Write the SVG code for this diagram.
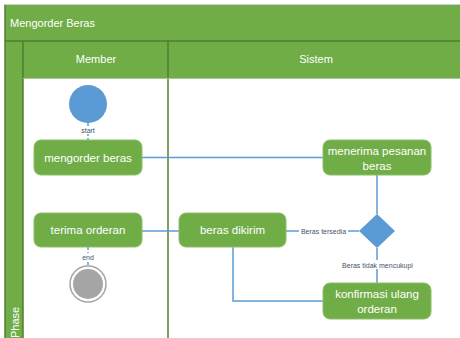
<svg xmlns="http://www.w3.org/2000/svg" width="460" height="338" viewBox="0 0 460 338">
  <defs>
    <style>
      .band { fill: #70AD47; }
      .rule { stroke: #507E32; stroke-width: 1.5; fill: none; }
      .hdr { font-family: "Liberation Sans", Arial, sans-serif; font-size: 11px; fill: #FFFFFF; }
      .act rect { fill: #70AD47; stroke: #8CC068; stroke-width: 1; }
      .act text { font-family: "Liberation Sans", Arial, sans-serif; font-size: 11.5px; fill: #FFFFFF; text-anchor: middle; }
      .flow { stroke: #5B9BD5; stroke-width: 1.5; fill: none; }
      .lbl { font-family: "Liberation Sans", Arial, sans-serif; font-size: 7px; fill: #44546A; text-anchor: middle; }
    </style>
  </defs>

  <rect width="460" height="338" fill="#FFFFFF"/>

  <!-- pool title band -->
  <line x1="4" y1="4.5" x2="460" y2="4.5" stroke="#D0D0D0" stroke-width="1"/>
  <rect class="band" x="5" y="5" width="455" height="36"/>
  <text class="hdr" x="10" y="27">Mengorder Beras</text>

  <!-- phase column -->
  <rect class="band" x="5" y="41" width="18" height="297"/>
  <text class="hdr" transform="translate(18.5,338) rotate(-90)" font-size="10">Phase</text>

  <!-- lane headers -->
  <rect class="band" x="23" y="41" width="437" height="37"/>
  <text class="hdr" x="96" y="63" text-anchor="middle">Member</text>
  <text class="hdr" x="316" y="63" text-anchor="middle">Sistem</text>

  <!-- frame rules -->
  <line class="rule" x1="5" y1="41" x2="460" y2="41"/>
  <line class="rule" x1="5" y1="5" x2="5" y2="338"/>
  <line class="rule" x1="23" y1="41" x2="23" y2="338"/>
  <line class="rule" x1="168" y1="41" x2="168" y2="338"/>
  <line x1="23" y1="78.5" x2="460" y2="78.5" stroke="#A8C89A" stroke-width="1"/>

  <!-- connectors -->
  <g id="connectors">
    <line class="flow" x1="88" y1="123" x2="88" y2="140" stroke-dasharray="3 2"/>
    <line class="flow" x1="142" y1="157.5" x2="323" y2="157.5"/>
    <line class="flow" x1="377" y1="175" x2="377" y2="214"/>
    <line class="flow" x1="359" y1="231" x2="286" y2="231"/>
    <line class="flow" x1="377" y1="248" x2="377" y2="283"/>
    <polyline class="flow" points="323,301 233,301 233,247"/>
    <line class="flow" x1="179" y1="231" x2="142" y2="231"/>
    <line class="flow" x1="88" y1="247" x2="88" y2="266" stroke-dasharray="3 2"/>
    <rect x="299" y="226" width="49" height="9" fill="#FFFFFF"/>
    <text class="lbl" x="323.5" y="233.5">Beras tersedia</text>
    <rect x="339" y="260" width="77" height="9" fill="#FFFFFF"/>
    <text class="lbl" x="377.5" y="267.5">Beras tidak mencukupi</text>
  </g>

  <g id="start">
    <circle cx="88" cy="104" r="19" fill="#5B9BD5"/>
    <rect x="80" y="126" width="16" height="8" fill="#FFFFFF"/>
    <text class="lbl" x="88" y="132.5">start</text>
  </g>

  <g id="mengorder-beras" class="act">
    <rect x="34" y="140" width="108" height="35" rx="7"/>
    <text x="88" y="161.5">mengorder beras</text>
  </g>

  <g id="menerima-pesanan" class="act">
    <rect x="323" y="140" width="108" height="35" rx="7"/>
    <text x="377" y="154.5">menerima pesanan</text>
    <text x="377" y="169.5">beras</text>
  </g>

  <g id="keputusan">
    <polygon points="377,214 395,231 377,248 359,231" fill="#5B9BD5"/>
  </g>

  <g id="beras-dikirim" class="act">
    <rect x="179" y="213" width="107" height="34" rx="7"/>
    <text x="232.5" y="234">beras dikirim</text>
  </g>

  <g id="terima-orderan" class="act">
    <rect x="34" y="213" width="108" height="34" rx="7"/>
    <text x="88" y="234">terima orderan</text>
  </g>

  <g id="konfirmasi-ulang" class="act">
    <rect x="323" y="283" width="108" height="36" rx="7"/>
    <text x="377" y="297.5">konfirmasi ulang</text>
    <text x="377" y="312.5">orderan</text>
  </g>

  <g id="end">
    <rect x="81" y="253" width="14" height="8" fill="#FFFFFF"/>
    <text class="lbl" x="88" y="259.5">end</text>
    <circle cx="88" cy="284" r="18" fill="#FFFFFF" stroke="#A5A5A5" stroke-width="1.5"/>
    <circle cx="88" cy="284" r="15" fill="#A5A5A5"/>
  </g>
</svg>
